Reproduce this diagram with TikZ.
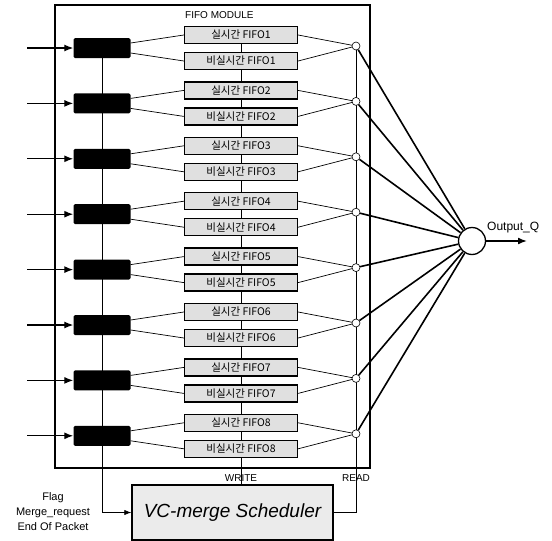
\documentclass[tikz,border=0pt]{standalone}
\usepackage{fontspec}
\setmainfont{Liberation Sans}
\newfontfamily\kr{Noto Sans CJK KR}
\usetikzlibrary{calc,arrows.meta,backgrounds}

\begin{document}
\begin{tikzpicture}[x=1pt,y=-1pt,
    fifo/.style={draw,line width=1.3pt,fill=black!12,minimum width=113pt,minimum height=17pt,inner sep=0pt,font=\kr\fontsize{10.5}{11}\selectfont},
    mux/.style={fill=black,rounded corners=1.5pt,minimum width=57pt,minimum height=20pt,inner sep=0pt},
    rdot/.style={circle,draw,fill=white,line width=0.6pt,minimum size=8pt,inner sep=0pt},
    lbl/.style={font=\fontsize{10}{11}\selectfont,inner sep=0pt},
    thin/.style={line width=0.7pt},
    bold/.style={line width=1.6pt}]
    \useasboundingbox (0,0) rectangle (552,541);
    % module frame
    \draw[line width=1.3pt] (55,5) rectangle (370,468);
    \node[lbl,anchor=west] (title) at (185,15) {FIFO MODULE};
    
    \foreach \i in {1,...,8}{
        \pgfmathsetmacro\yc{48+55.4*(\i-1)}
        \node[mux] (m\i) at (102,\yc) {};
        \node[fifo] (fa\i) at (241,\yc-13) {실시간 FIFO\i};
        \node[fifo] (fb\i) at (241,\yc+13) {비실시간 FIFO\i};
        \node[rdot] (r\i) at (356,\yc-2) {};
        \coordinate (in\i) at (27,\yc);
    }
    
    \node[draw,line width=1.3pt,fill=black!8,minimum width=201pt,minimum height=55pt,
        font=\itshape\fontsize{19}{22}\selectfont] (sched) at (232.5,512.5) {VC-merge Scheduler};
    \node[circle,draw,line width=1.3pt,fill=white,minimum size=27pt,inner sep=0pt] (outq) at (472,241) {};
    \coordinate (qend) at (527,241);
    
    \begin{scope}[on background layer]
        \draw[thin] (fa1.center) -- (fa1.center |- sched.north);
        \draw[thin,-{Latex[length=7pt]}] (m1.center) -- (m1.center |- sched.west) -- (sched.west);
        \draw[thin] (r1.center) -- (r1.center |- sched.east) -- (sched.east);
    \end{scope}
    
    \foreach \i in {1,...,8}{
        \draw[line width=1.3pt,-{Latex[length=9pt,width=7pt]}] (in\i) -- (m\i.west);
        \draw[thin] ($(m\i.east)+(0,-5)$) -- (fa\i.west);
        \draw[thin] ($(m\i.east)+(0,5)$) -- (fb\i.west);
        \draw[thin] (fa\i.east) -- (r\i);
        \draw[thin] (fb\i.east) -- (r\i);
        \draw[bold] (r\i) -- (outq);
    }
    
    \draw[bold,-{Latex[length=9pt,width=7pt]}] (outq.east) -- (qend);
    \node[lbl,font=\fontsize{12}{14}\selectfont,anchor=south west] (qlbl) at (487,233) {Output\_Q};
    \node[lbl,anchor=south] (wlbl) at (fa1.center |- 0,482) {WRITE};
    \node[lbl,anchor=south] (rlbl) at (r1.center |- 0,482) {READ};
    \node[lbl,font=\fontsize{11}{15}\selectfont,align=center] (flags) at (53,512) {Flag\\Merge\_request\\End Of Packet};
\end{tikzpicture}
\end{document}
